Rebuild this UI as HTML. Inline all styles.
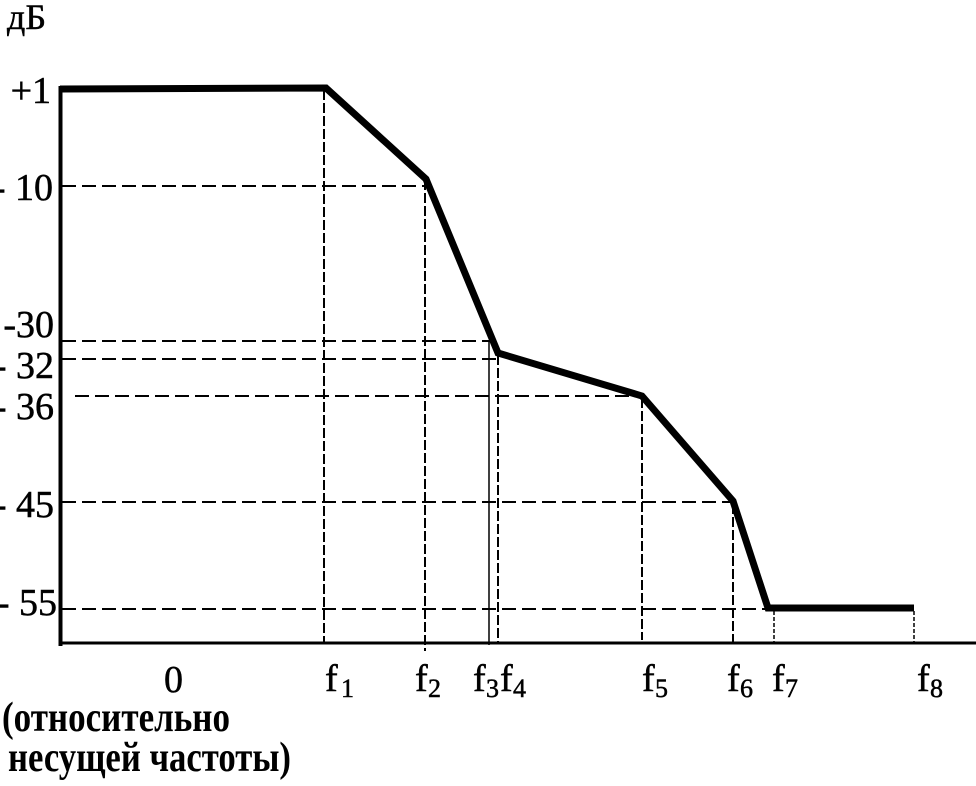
<!DOCTYPE html>
<html>
<head>
<meta charset="utf-8">
<style>
html,body{margin:0;padding:0;background:#fff;}
svg{display:block;}
text{font-family:"Liberation Serif","Noto Serif CJK SC",serif;fill:#000;}
</style>
</head>
<body>
<svg width="976" height="786" viewBox="0 0 976 786" xmlns="http://www.w3.org/2000/svg">
  <!-- horizontal dashed lines -->
  <g stroke="#000" stroke-width="2" stroke-dasharray="14 6" fill="none">
    <line x1="62" y1="186" x2="426" y2="186"/>
    <line x1="62" y1="341" x2="490" y2="341"/>
    <line x1="62" y1="359" x2="498" y2="359"/>
    <line x1="75" y1="396" x2="643" y2="396"/>
    <line x1="62" y1="502" x2="733" y2="502"/>
    <line x1="62" y1="609" x2="768" y2="609"/>
  </g>
  <!-- vertical dashed lines -->
  <g stroke="#000" stroke-width="2" stroke-dasharray="10 3" fill="none">
    <line x1="324" y1="90" x2="324" y2="643"/>
    <line x1="425" y1="180" x2="425" y2="651"/>
    <line x1="498" y1="355" x2="498" y2="643"/>
    <line x1="642" y1="398" x2="642" y2="640"/>
    <line x1="733" y1="504" x2="733" y2="643"/>
  </g>
  <g stroke="#000" stroke-width="1.5" stroke-dasharray="4 2" fill="none">
    <line x1="774" y1="611" x2="774" y2="643"/>
    <line x1="914" y1="611" x2="914" y2="643"/>
  </g>
  <!-- f3 solid thin -->
  <line x1="489" y1="341" x2="489" y2="645" stroke="#000" stroke-width="1.5"/>
  <!-- axes -->
  <line x1="60.5" y1="86" x2="60.5" y2="646" stroke="#000" stroke-width="4"/>
  <line x1="59" y1="643" x2="976" y2="643" stroke="#000" stroke-width="3"/>
  <!-- curve -->
  <polyline points="60,89 326,88 426,179 498,353 642,396 733,501 768,608 914,608"
    fill="none" stroke="#000" stroke-width="7" stroke-linejoin="miter" stroke-linecap="butt"/>

  <!-- y labels -->
  <g stroke="#000" stroke-width="0.5">
  <text x="7" y="29" font-size="36">дБ</text>
  <g font-size="38" text-anchor="end">
    <text x="51" y="103">+1</text>
    <text x="53" y="200">- 10</text>
    <text x="54" y="337">-30</text>
    <text x="54" y="378">- 32</text>
    <text x="54" y="419">- 36</text>
    <text x="54" y="517">- 45</text>
    <text x="57" y="615">- 55</text>
  </g>

  <!-- x labels -->
  <g font-size="38">
    <text x="164" y="692">0</text>
    <text x="325" y="691">f</text>
    <text x="415" y="691">f</text>
    <text x="473" y="691">f</text>
    <text x="500" y="691">f</text>
    <text x="642" y="691">f</text>
    <text x="727" y="691">f</text>
    <text x="772" y="691">f</text>
    <text x="917" y="691">f</text>
  </g>
  <g font-size="26">
    <text x="341" y="697">1</text>
    <text x="428" y="697">2</text>
    <text x="486" y="697">3</text>
    <text x="513" y="697">4</text>
    <text x="655" y="697">5</text>
    <text x="740" y="697">6</text>
    <text x="785" y="697">7</text>
    <text x="930" y="697">8</text>
  </g>
  </g>

  <!-- bottom caption -->
  <text x="2" y="731" font-size="42" font-weight="bold" textLength="228" lengthAdjust="spacingAndGlyphs">(относительно</text>
  <text x="8" y="771" font-size="42" font-weight="bold" textLength="283" lengthAdjust="spacingAndGlyphs">несущей частоты)</text>
</svg>
</body>
</html>
